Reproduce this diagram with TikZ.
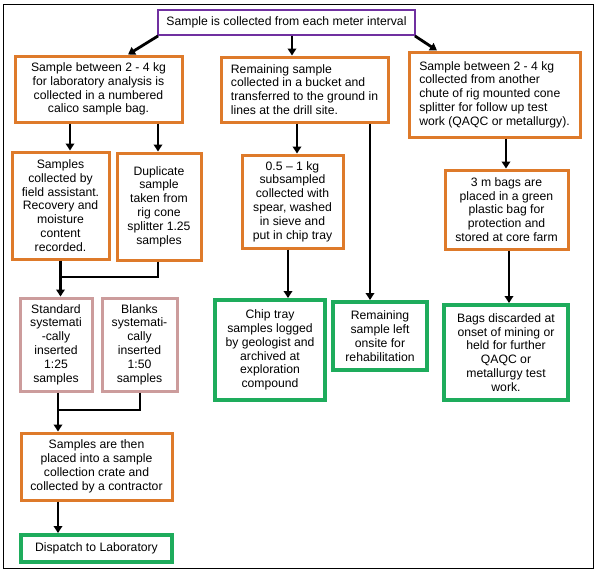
\documentclass[tikz,border=0pt]{standalone}
\usepackage{fontspec}
\setmainfont{Liberation Sans}
\usetikzlibrary{arrows.meta,calc}
\definecolor{boxorange}{RGB}{222,122,42}
\definecolor{boxgreen}{RGB}{30,172,92}
\definecolor{boxpink}{RGB}{204,156,156}
\definecolor{boxpurple}{RGB}{112,48,160}
\begin{document}
\begin{tikzpicture}[x=1pt,y=-1pt,
  font=\fontsize{12.2}{13.8}\selectfont,
  box/.style={draw, fill=white, inner sep=0pt, align=center},
  obox/.style={box, draw=boxorange, line width=3pt},
  gbox/.style={box, draw=boxgreen, line width=4pt},
  pkbox/.style={box, draw=boxpink, line width=3pt},
  pbox/.style={box, draw=boxpurple, line width=1.8pt},
  arr/.style={line width=2.8pt, -{Triangle[length=7pt,width=8.5pt]}},
  ln/.style={line width=2.8pt}]
\useasboundingbox (0,0) rectangle (599,574);
\draw[line width=1pt] (3,4) rectangle (593,568);

\node[pbox, minimum width=257pt, minimum height=25pt] (top) at (286.5,22.5) {Sample is collected from each meter interval};

\node[obox, minimum width=167pt, minimum height=66pt] (A) at (98.5,89) {Sample between 2 - 4 kg\\for laboratory analysis is\\collected in a numbered\\calico sample bag.};
\node[obox, align=left, minimum width=167pt, minimum height=65pt] (B) at (304.5,89.5) {Remaining sample\\collected in a bucket and\\transferred to the ground in\\lines at the drill site.};
\node[obox, align=left, minimum width=171pt, minimum height=85pt] (C) at (494.5,94.5) {Sample between 2 - 4 kg\\collected from another\\chute of rig mounted cone\\splitter for follow up test\\work (QAQC or metallurgy).};

\node[obox, minimum width=97pt, minimum height=107pt] (D) at (60.5,205.5) {Samples\\collected by\\field assistant.\\Recovery and\\moisture\\content\\recorded.};
\node[obox, minimum width=84pt, minimum height=107pt] (E) at (159,206.5) {Duplicate\\sample\\taken from\\rig cone\\splitter 1.25\\samples};
\node[obox, minimum width=101pt, minimum height=93pt] (F) at (292.5,201.5) {0.5 – 1 kg\\subsampled\\collected with\\spear, washed\\in sieve and\\put in chip tray};
\node[obox, minimum width=123pt, minimum height=79pt] (G) at (506.5,209.5) {3 m bags are\\placed in a green\\plastic bag for\\protection and\\stored at core farm};

\node[pkbox, minimum width=72pt, minimum height=93pt] (H) at (56,344.5) {Standard\\systemati\\-cally\\inserted\\1:25\\samples};
\node[pkbox, minimum width=75pt, minimum height=93pt] (I) at (139.5,344.5) {Blanks\\systemati-\\cally\\inserted\\1:50\\samples};

\node[gbox, minimum width=110pt, minimum height=100pt] (L) at (270,350) {Chip tray\\samples logged\\by geologist and\\archived at\\exploration\\compound};
\node[gbox, minimum width=94pt, minimum height=68pt] (M) at (380,336) {Remaining\\sample left\\onsite for\\rehabilitation};
\node[gbox, minimum width=124pt, minimum height=95pt] (N) at (506,352.5) {Bags discarded at\\onset of mining or\\held for further\\QAQC or\\metallurgy test\\work.};

\node[obox, minimum width=151pt, minimum height=67pt] (J) at (96.5,466.5) {Samples are then\\placed into a sample\\collection crate and\\collected by a contractor};
\node[gbox, minimum width=151pt, minimum height=27pt] (K) at (96.5,548.5) {Dispatch to Laboratory};

% connectors from top
\draw[arr] ([xshift=1pt]top.south west) -- ([xshift=29.5pt]A.north);
\draw[arr] ([xshift=5.5pt]top.south) -- ([xshift=5.5pt]top.south |- B.north);
\draw[arr] ([xshift=-1pt]top.south east) -- ([xshift=-57.5pt]C.north);

% second level
\draw[arr] ([xshift=-28.5pt]A.south) -- ([xshift=-28.5pt]A.south |- D.north);
\draw[arr] ([xshift=59.5pt]A.south) -- ([xshift=59.5pt]A.south |- E.north);
\draw[arr] ([xshift=-7.5pt]B.south) -- ([xshift=-7.5pt]B.south |- F.north);
\draw[arr] ([xshift=65.5pt]B.south) -- ([xshift=65.5pt]B.south |- M.north);
\draw[arr] ([xshift=11.5pt]C.south) -- ([xshift=11.5pt]C.south |- G.north);

% merge D,E -> H
\coordinate (mDE) at (D.south |- 0,277);
\draw[ln] ([xshift=-1pt]E.south) |- ([xshift=-1.4pt]mDE);
\draw[arr] (D.south) -- (D.south |- H.north);

% third level
\draw[arr] ([xshift=-4.5pt]F.south) -- ([xshift=-4.5pt]F.south |- L.north);
\draw[arr] ([xshift=2.5pt]G.south) -- ([xshift=2.5pt]G.south |- N.north);

% merge H,I -> J
\coordinate (mHI) at ([xshift=2pt]H.south |- 0,410);
\draw[ln] ([xshift=0.5pt]I.south) |- ([xshift=-1.4pt]mHI);
\draw[arr] ([xshift=2pt]H.south) -- ([xshift=2pt]H.south |- J.north);

\draw[arr] ([xshift=2pt]H.south |- J.south) -- ([xshift=2pt]H.south |- K.north);
\end{tikzpicture}
\end{document}
